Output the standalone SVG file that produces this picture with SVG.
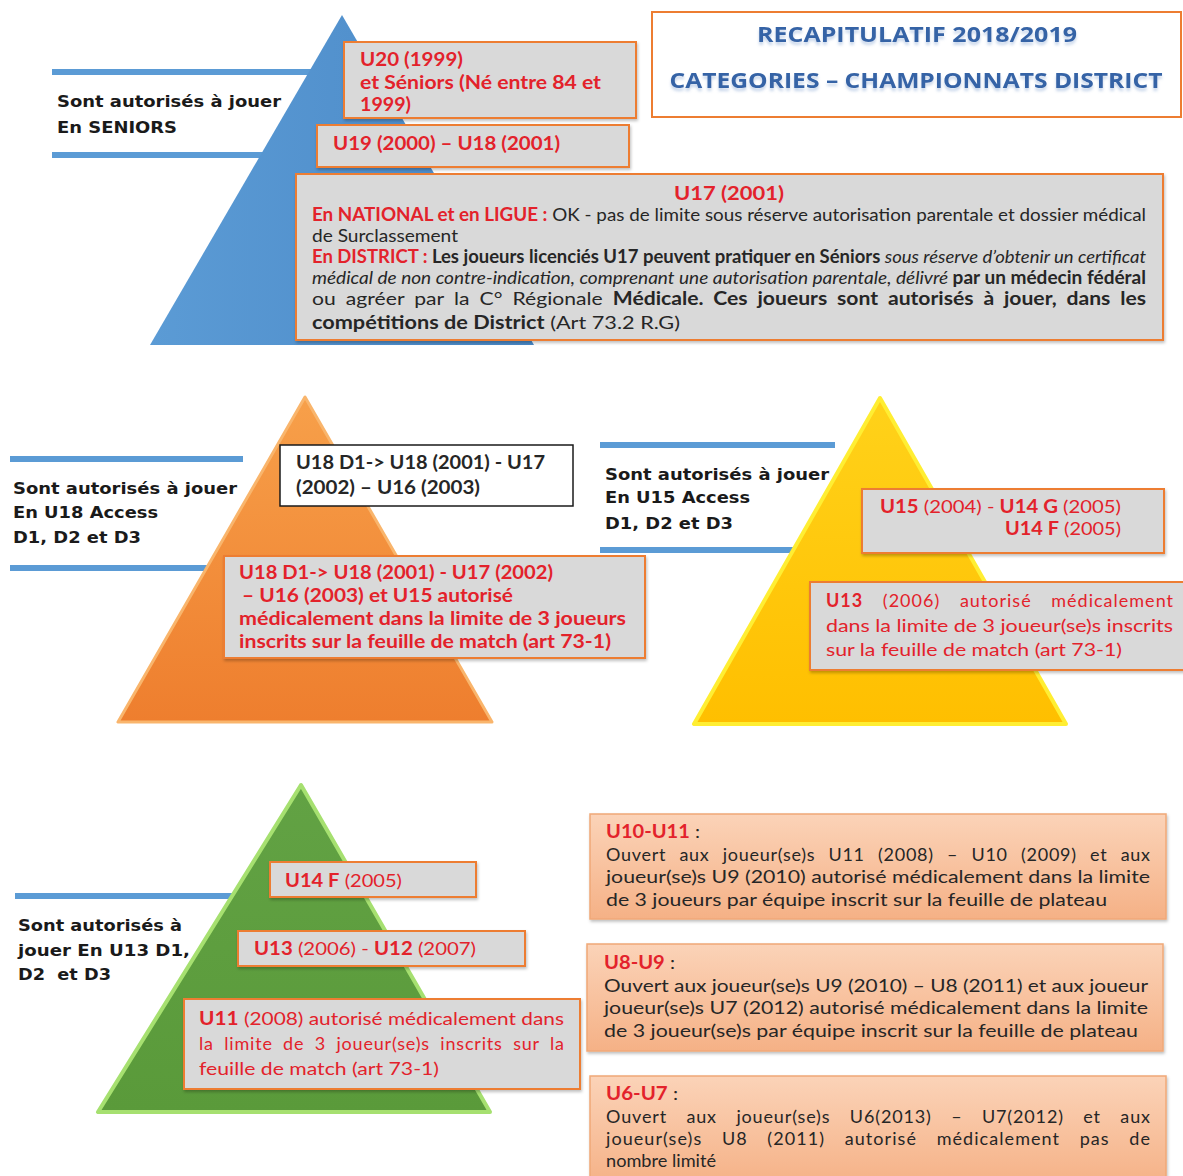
<svg xmlns="http://www.w3.org/2000/svg" width="1183" height="1176" viewBox="0 0 1183 1176">
<defs>
<linearGradient id="gBlue" x1="0" y1="0" x2="1" y2="0"><stop offset="0" stop-color="#5b9bd5"/><stop offset="1" stop-color="#4a88c6"/></linearGradient>
<linearGradient id="gOrange" x1="0" y1="0" x2="0" y2="1"><stop offset="0" stop-color="#f7a04a"/><stop offset="1" stop-color="#ee7e2e"/></linearGradient>
<linearGradient id="gYellow" x1="0" y1="0" x2="0" y2="1"><stop offset="0" stop-color="#ffd21a"/><stop offset="1" stop-color="#ffbf00"/></linearGradient>
<linearGradient id="gGreen" x1="0" y1="0" x2="0" y2="1"><stop offset="0" stop-color="#62a244"/><stop offset="1" stop-color="#5a9a3a"/></linearGradient>
<linearGradient id="gSalmon" x1="0" y1="0" x2="0" y2="1"><stop offset="0" stop-color="#fbd3b8"/><stop offset="1" stop-color="#f5b186"/></linearGradient>
<filter id="sh" x="-5%" y="-10%" width="110%" height="130%"><feDropShadow dx="1" dy="2" stdDeviation="1.5" flood-color="#000" flood-opacity="0.25"/></filter>
<filter id="tsh" x="-5%" y="-20%" width="110%" height="160%"><feDropShadow dx="0" dy="3" stdDeviation="1.5" flood-color="#7f9fcf" flood-opacity="0.45"/></filter>
<style>
.lbl{font-family:"DejaVu Sans",Verdana,sans-serif;font-weight:bold;font-size:16px;fill:#1a1a1a}
.c{font-family:Lato,"Open Sans",sans-serif;font-size:18px;fill:#262626}
.r{fill:#e3222b}
.b{font-weight:bold}
.i{font-style:italic}
.gbox{fill:#d9d9d9;stroke:#ed7d31;stroke-width:2}
.sbox{fill:url(#gSalmon);stroke:#f0a877;stroke-width:1.5}
.rule{stroke:#5b9bd5;stroke-width:6;fill:none}
.ttl{font-family:"Open Sans",Lato,sans-serif;font-weight:bold;fill:#3563a6}
</style>
</defs>
<rect width="1183" height="1176" fill="#ffffff"/>

<g id="connectors">
<line class="rule" x1="52" y1="72" x2="312" y2="72"/>
<line class="rule" x1="52" y1="155" x2="266" y2="155"/>
<line class="rule" x1="10" y1="459" x2="243" y2="459"/>
<line class="rule" x1="10" y1="568" x2="210" y2="568"/>
<line class="rule" x1="600" y1="445" x2="835" y2="445"/>
<line class="rule" x1="600" y1="550" x2="795" y2="550"/>
<line class="rule" x1="15" y1="896" x2="234" y2="896"/>
</g>

<g id="pyr-blue">
<polygon points="342,15 150,345 534,345" fill="url(#gBlue)"/>
</g>
<g id="pyr-orange">
<polygon points="305,397 118,722 492,722" fill="url(#gOrange)" stroke="#f9b56c" stroke-width="3" stroke-linejoin="round"/>
</g>
<g id="pyr-yellow">
<polygon points="880,398 694,724 1066,724" fill="url(#gYellow)" stroke="#ffee33" stroke-width="4" stroke-linejoin="round"/>
</g>
<g id="pyr-green">
<polygon points="301,785 98,1112 490,1112" fill="url(#gGreen)" stroke="#a6e070" stroke-width="4" stroke-linejoin="round"/>
</g>

<g id="title">
<rect x="652" y="12" width="529" height="105" fill="#ffffff" stroke="#ed7d31" stroke-width="2"/>
<text class="ttl" x="917" y="42" font-size="22" text-anchor="middle" textLength="320" lengthAdjust="spacingAndGlyphs" filter="url(#tsh)">RECAPITULATIF 2018/2019</text>
<text class="ttl" x="916" y="88" font-size="22" text-anchor="middle" textLength="493" lengthAdjust="spacingAndGlyphs" filter="url(#tsh)">CATEGORIES – CHAMPIONNATS DISTRICT</text>
</g>

<g id="label-seniors">
<text class="lbl" x="57" y="107" textLength="224" lengthAdjust="spacingAndGlyphs">Sont autorisés à jouer</text>
<text class="lbl" x="57" y="133" textLength="120" lengthAdjust="spacingAndGlyphs">En SENIORS</text>
</g>

<g id="box-u20">
<rect class="gbox" x="344" y="42" width="292" height="76" filter="url(#sh)"/>
<text class="c r b" x="360" y="66" textLength="103" lengthAdjust="spacingAndGlyphs">U20 (1999)</text>
<text class="c r b" x="360" y="89" textLength="241" lengthAdjust="spacingAndGlyphs">et Séniors (Né entre 84 et</text>
<text class="c r b" x="360" y="111" textLength="51" lengthAdjust="spacingAndGlyphs">1999)</text>
</g>

<g id="box-u19">
<rect class="gbox" x="317" y="125" width="312" height="42" filter="url(#sh)"/>
<text class="c r b" x="333" y="150" textLength="227" lengthAdjust="spacingAndGlyphs">U19 (2000) – U18 (2001)</text>
</g>

<g id="box-u17">
<rect class="gbox" x="296" y="174" width="867" height="166" filter="url(#sh)"/>
<text class="c r b" x="674" y="200" font-size="20" textLength="110" lengthAdjust="spacingAndGlyphs">U17 (2001)</text>
<text class="c" x="312" y="221" font-size="15.5" textLength="834" lengthAdjust="spacingAndGlyphs"><tspan class="r b">En NATIONAL et en LIGUE :</tspan> OK - pas de limite sous réserve autorisation parentale et dossier médical</text>
<text class="c" x="312" y="242" font-size="15.5" textLength="146" lengthAdjust="spacingAndGlyphs">de Surclassement</text>
<text class="c" x="312" y="263" font-size="15.5" textLength="834" lengthAdjust="spacingAndGlyphs"><tspan class="r b">En DISTRICT :</tspan><tspan class="b"> Les joueurs licenciés U17 peuvent pratiquer en Séniors </tspan><tspan class="i">sous réserve d’obtenir un certificat</tspan></text>
<text class="c" x="312" y="284" font-size="15.5" textLength="834" lengthAdjust="spacingAndGlyphs"><tspan class="i">médical de non contre-indication, comprenant une autorisation parentale, délivré </tspan><tspan class="b"> par un médecin fédéral</tspan></text>
<text class="c" x="312" y="305" font-size="15.5" textLength="834" lengthAdjust="spacingAndGlyphs" word-spacing="4">ou agréer par la C° Régionale <tspan class="b" font-size="18">Médicale. Ces joueurs sont autorisés à jouer, dans les</tspan></text>
<text class="c" x="312" y="329" font-size="17" textLength="368" lengthAdjust="spacingAndGlyphs"><tspan class="b">compétitions de District</tspan> (Art 73.2 R.G)</text>
</g>

<g id="label-u18">
<text class="lbl" x="13" y="494" textLength="224" lengthAdjust="spacingAndGlyphs">Sont autorisés à jouer</text>
<text class="lbl" x="13" y="518" textLength="145" lengthAdjust="spacingAndGlyphs">En U18 Access</text>
<text class="lbl" x="13" y="543" textLength="128" lengthAdjust="spacingAndGlyphs">D1, D2 et D3</text>
</g>

<g id="box-u18-white">
<rect x="280" y="445" width="293" height="61" fill="#ffffff" stroke="#1a1a1a" stroke-width="1.5"/>
<text class="c b" x="296" y="469" fill="#1a1a1a" textLength="249" lengthAdjust="spacingAndGlyphs">U18 D1-&gt; U18 (2001) - U17</text>
<text class="c b" x="296" y="494" fill="#1a1a1a" textLength="184" lengthAdjust="spacingAndGlyphs">(2002) – U16 (2003)</text>
</g>

<g id="box-u18-red">
<rect class="gbox" x="224" y="556" width="421" height="102" filter="url(#sh)"/>
<text class="c r b" x="239" y="579" textLength="314" lengthAdjust="spacingAndGlyphs">U18 D1-&gt; U18 (2001) - U17 (2002)</text>
<text class="c r b" x="242" y="602" textLength="271" lengthAdjust="spacingAndGlyphs">– U16 (2003) et U15 autorisé</text>
<text class="c r b" x="239" y="625" textLength="387" lengthAdjust="spacingAndGlyphs">médicalement dans la limite de 3 joueurs</text>
<text class="c r b" x="239" y="648" textLength="372" lengthAdjust="spacingAndGlyphs">inscrits sur la feuille de match (art 73-1)</text>
</g>

<g id="label-u15">
<text class="lbl" x="605" y="480" textLength="224" lengthAdjust="spacingAndGlyphs">Sont autorisés à jouer</text>
<text class="lbl" x="605" y="503" textLength="145" lengthAdjust="spacingAndGlyphs">En U15 Access</text>
<text class="lbl" x="605" y="529" textLength="128" lengthAdjust="spacingAndGlyphs">D1, D2 et D3</text>
</g>

<g id="box-u15">
<rect class="gbox" x="862" y="489" width="302" height="64" filter="url(#sh)"/>
<text class="c r" x="880" y="513" textLength="241" lengthAdjust="spacingAndGlyphs"><tspan class="b">U15</tspan> (2004) - <tspan class="b">U14 G</tspan> (2005)</text>
<text class="c r" x="1005" y="535" textLength="116" lengthAdjust="spacingAndGlyphs"><tspan class="b">U14 F</tspan> (2005)</text>
</g>

<g id="box-u13-yellow">
<rect class="gbox" x="810" y="582" width="376" height="88" filter="url(#sh)"/>
<text class="c r" x="826" y="607" textLength="347" lengthAdjust="spacing" word-spacing="14"><tspan class="b">U13</tspan> (2006) autorisé médicalement</text>
<text class="c r" x="826" y="632" textLength="347" lengthAdjust="spacingAndGlyphs">dans la limite de 3 joueur(se)s inscrits</text>
<text class="c r" x="826" y="656" textLength="296" lengthAdjust="spacingAndGlyphs">sur la feuille de match (art 73-1)</text>
</g>

<g id="label-u13">
<text class="lbl" x="18" y="931" textLength="164" lengthAdjust="spacingAndGlyphs">Sont autorisés à</text>
<text class="lbl" x="18" y="956" textLength="172" lengthAdjust="spacingAndGlyphs">jouer En U13 D1,</text>
<text class="lbl" x="18" y="980" textLength="93" lengthAdjust="spacingAndGlyphs" xml:space="preserve">D2  et D3</text>
</g>

<g id="box-u14f">
<rect class="gbox" x="270" y="862" width="206" height="35" filter="url(#sh)"/>
<text class="c r" x="285" y="887" textLength="117" lengthAdjust="spacingAndGlyphs"><tspan class="b">U14 F</tspan> (2005)</text>
</g>

<g id="box-u13-green">
<rect class="gbox" x="238" y="931" width="287" height="35" filter="url(#sh)"/>
<text class="c r" x="254" y="955" textLength="222" lengthAdjust="spacingAndGlyphs"><tspan class="b">U13</tspan> (2006) - <tspan class="b">U12</tspan> (2007)</text>
</g>

<g id="box-u11">
<rect class="gbox" x="184" y="999" width="396" height="90" filter="url(#sh)"/>
<text class="c r" x="199" y="1025" textLength="365" lengthAdjust="spacingAndGlyphs"><tspan class="b">U11</tspan> (2008) autorisé médicalement dans</text>
<text class="c r" x="199" y="1050" textLength="365" lengthAdjust="spacing" word-spacing="5">la limite de 3 joueur(se)s inscrits sur la</text>
<text class="c r" x="199" y="1075" textLength="240" lengthAdjust="spacingAndGlyphs">feuille de match (art 73-1)</text>
</g>

<g id="box-u10-u11">
<rect class="sbox" x="590" y="814" width="576" height="105" filter="url(#sh)"/>
<text class="c" x="606" y="838" textLength="94" lengthAdjust="spacingAndGlyphs"><tspan class="r b">U10-U11</tspan> :</text>
<text class="c" x="606" y="861" textLength="544" lengthAdjust="spacing" word-spacing="8">Ouvert aux joueur(se)s U11 (2008) – U10 (2009) et aux</text>
<text class="c" x="606" y="883" textLength="544" lengthAdjust="spacingAndGlyphs">joueur(se)s U9 (2010) autorisé médicalement dans la limite</text>
<text class="c" x="606" y="906" textLength="501" lengthAdjust="spacingAndGlyphs">de 3 joueurs par équipe inscrit sur la feuille de plateau</text>
</g>

<g id="box-u8-u9">
<rect class="sbox" x="587" y="944" width="576" height="107" filter="url(#sh)"/>
<text class="c" x="604" y="969" textLength="71" lengthAdjust="spacingAndGlyphs"><tspan class="r b">U8-U9</tspan> :</text>
<text class="c" x="604" y="992" textLength="544" lengthAdjust="spacingAndGlyphs">Ouvert aux joueur(se)s U9 (2010) – U8 (2011) et aux joueur</text>
<text class="c" x="604" y="1014" textLength="544" lengthAdjust="spacingAndGlyphs">joueur(se)s U7 (2012) autorisé médicalement dans la limite</text>
<text class="c" x="604" y="1037" textLength="534" lengthAdjust="spacingAndGlyphs">de 3 joueur(se)s par équipe inscrit sur la feuille de plateau</text>
</g>

<g id="box-u6-u7">
<rect class="sbox" x="590" y="1076" width="576" height="110" filter="url(#sh)"/>
<text class="c" x="606" y="1100" textLength="72" lengthAdjust="spacingAndGlyphs"><tspan class="r b">U6-U7</tspan> :</text>
<text class="c" x="606" y="1123" textLength="544" lengthAdjust="spacing" word-spacing="14">Ouvert aux joueur(se)s U6(2013) – U7(2012) et aux</text>
<text class="c" x="606" y="1145" textLength="544" lengthAdjust="spacing" word-spacing="14">joueur(se)s U8 (2011) autorisé médicalement pas de</text>
<text class="c" x="606" y="1167" textLength="110" lengthAdjust="spacingAndGlyphs">nombre limité</text>
</g>
</svg>
